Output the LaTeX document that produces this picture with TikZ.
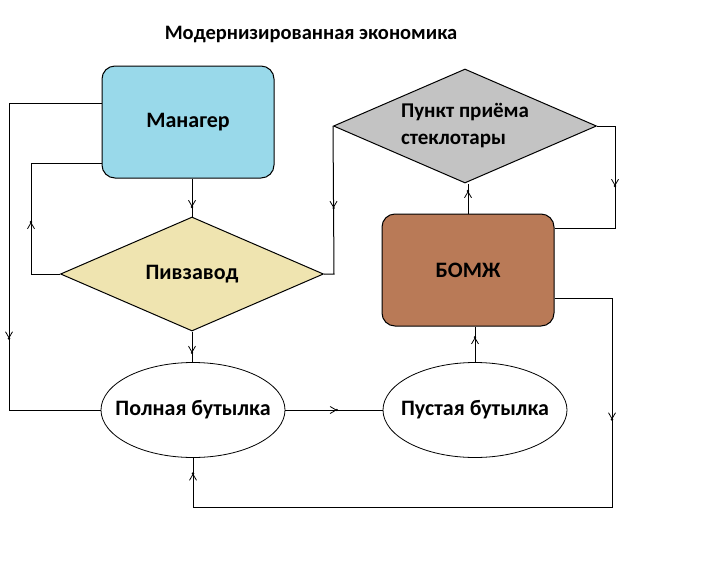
\documentclass[tikz,border=0pt]{standalone}
\usepackage{fontspec}
\setmainfont{Carlito}
\usepackage{xcolor}
\usetikzlibrary{shapes.geometric,arrows.meta,decorations.markings}

\definecolor{managerblue}{HTML}{99D9EA}
\definecolor{plantyellow}{HTML}{EFE4B0}
\definecolor{pointgrey}{HTML}{C3C3C3}
\definecolor{bumbrown}{HTML}{B97A57}

\tikzset{
  box/.style={draw, line width=1pt, rounded corners=13pt, minimum width=172pt, minimum height=112pt, font=\bfseries\fontsize{22}{24}\selectfont},
  rhomb/.style={draw, line width=1pt, diamond, aspect=2.3, inner sep=0pt, minimum width=263pt, minimum height=114pt, font=\bfseries\fontsize{22}{27}\selectfont},
  bottle/.style={draw, line width=0.8pt, ellipse, minimum width=184pt, minimum height=95pt, inner xsep=-15pt, inner ysep=0pt, font=\bfseries\fontsize{22}{24}\selectfont},
  link/.style={line width=1pt},
  midarrow/.style={postaction={decorate, decoration={markings, mark=at position #1 with {\arrow{Straight Barb[length=6pt,width=7pt,line width=0.8pt]}\fill (0,0) circle (1.3pt);}}}}
}

\begin{document}
\begin{tikzpicture}[x=1pt,y=-1pt]
\useasboundingbox (0,0) rectangle (713,563);

\node[font=\bfseries\fontsize{20.5}{22}\selectfont] (title) at (311,35) {Модернизированная экономика};

\node[box, fill=managerblue] (manager) at (188,122) {Манагер};
\node[rhomb, fill=plantyellow] (plant) at (192,274) {Пивзавод};
\node[rhomb, fill=pointgrey, align=left, font=\bfseries\fontsize{21}{27}\selectfont] (point) at (465,126) {Пункт приёма\\стеклотары};
\node[box, fill=bumbrown] (bum) at (468,270) {БОМЖ};
\node[bottle] (full) at (193,410) {Полная бутылка};
\node[bottle] (empty) at (475,410) {Пустая бутылка};

\draw[link, midarrow=328pt] ([yshift=19pt]manager.west) -- (9,103) -- (9,410) -- (full.west);
\draw[link, midarrow=81pt] (plant.west) -- (31,274) -- (31,163) -- ([yshift=-41pt]manager.west);
\draw[link, midarrow=0.75] (plant.north |- manager.south) -- (plant.north);
\draw[link, midarrow=0.7] (plant.south) -- (plant.south |- full.north);
\draw[link, midarrow=82pt] (point.west) -- (334,274) -- (plant.east);
\draw[link, midarrow=78pt] (point.east) -- (615,126) -- (615,228) -- ([yshift=42pt]bum.east);
\draw[link, midarrow=0.75] (bum.north) -- (bum.north |- point.south);
\draw[link, midarrow=0.7] (empty.north) -- (empty.north |- bum.south);
\draw[link, midarrow=0.53] (full.east) -- (empty.west);
\draw[link, midarrow=179pt, midarrow=719pt] ([yshift=-28pt]bum.east) -- (612,298) -- (612,507) -- (193,507) -- (full.south);

\end{tikzpicture}
\end{document}
